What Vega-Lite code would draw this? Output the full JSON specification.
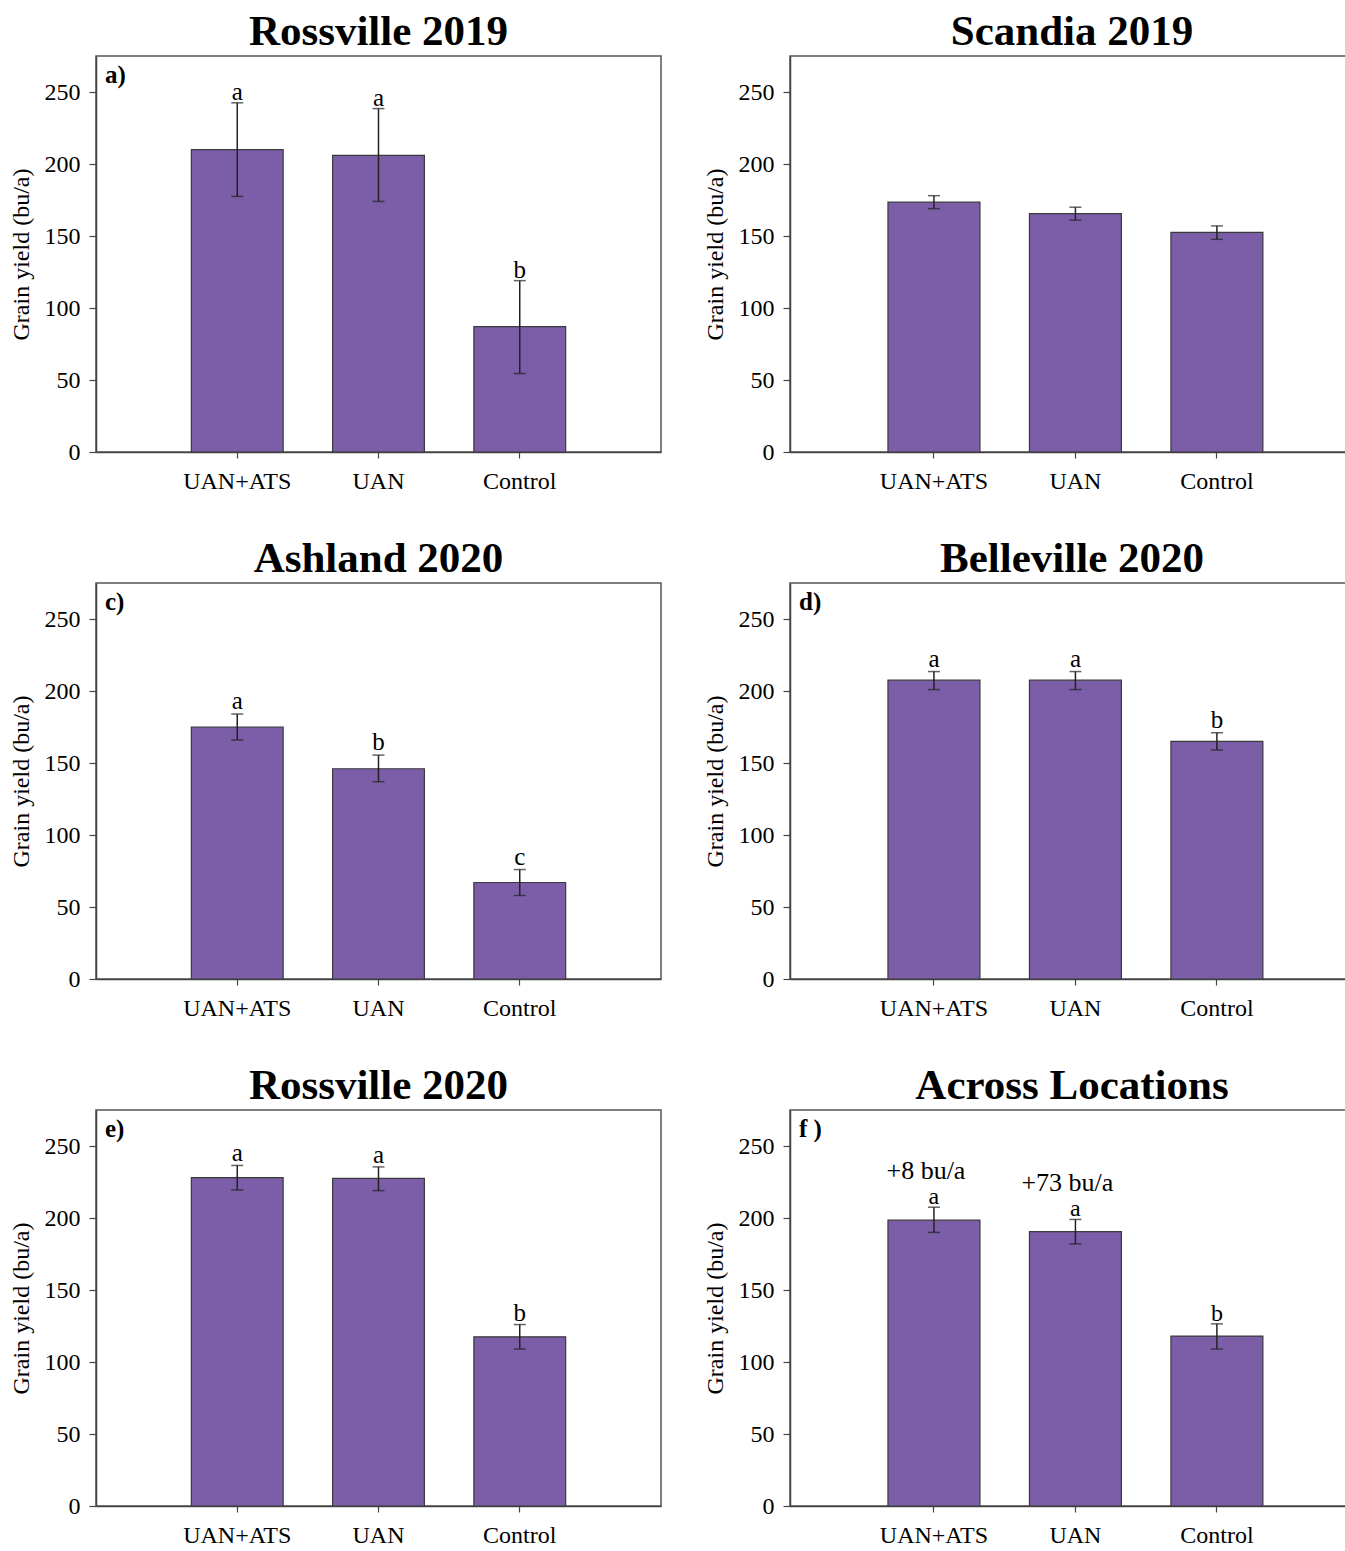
{
  "$schema": "https://vega.github.io/schema/vega-lite/v6.json",
  "padding": {"left": 8, "top": 10, "right": 0, "bottom": 0},
  "background": "white",
  "datasets": {
    "yields": [
      {"panel": "a", "treatment": "UAN+ATS", "yield": 210, "lo": 177.5, "hi": 242.5, "letter": "a", "note": ""},
      {"panel": "a", "treatment": "UAN", "yield": 206, "lo": 174, "hi": 238.5, "letter": "a", "note": ""},
      {"panel": "a", "treatment": "Control", "yield": 87, "lo": 54.5, "hi": 119, "letter": "b", "note": ""},
      {"panel": "b", "treatment": "UAN+ATS", "yield": 173.5, "lo": 169, "hi": 178, "letter": "", "note": ""},
      {"panel": "b", "treatment": "UAN", "yield": 165.5, "lo": 161, "hi": 170, "letter": "", "note": ""},
      {"panel": "b", "treatment": "Control", "yield": 152.5, "lo": 147.7, "hi": 157, "letter": "", "note": ""},
      {"panel": "c", "treatment": "UAN+ATS", "yield": 175, "lo": 166, "hi": 184, "letter": "a", "note": ""},
      {"panel": "c", "treatment": "UAN", "yield": 146, "lo": 137, "hi": 155.5, "letter": "b", "note": ""},
      {"panel": "c", "treatment": "Control", "yield": 67, "lo": 58, "hi": 76, "letter": "c", "note": ""},
      {"panel": "d", "treatment": "UAN+ATS", "yield": 207.5, "lo": 201, "hi": 213.5, "letter": "a", "note": ""},
      {"panel": "d", "treatment": "UAN", "yield": 207.5, "lo": 201, "hi": 213.5, "letter": "a", "note": ""},
      {"panel": "d", "treatment": "Control", "yield": 165, "lo": 159, "hi": 171, "letter": "b", "note": ""},
      {"panel": "e", "treatment": "UAN+ATS", "yield": 228, "lo": 219.5, "hi": 236.5, "letter": "a", "note": ""},
      {"panel": "e", "treatment": "UAN", "yield": 227.5, "lo": 219, "hi": 235.5, "letter": "a", "note": ""},
      {"panel": "e", "treatment": "Control", "yield": 117.5, "lo": 109, "hi": 126, "letter": "b", "note": ""},
      {"panel": "f", "treatment": "UAN+ATS", "yield": 198.5, "lo": 190, "hi": 207.5, "letter": "a", "note": "+8 bu/a"},
      {"panel": "f", "treatment": "UAN", "yield": 190.5, "lo": 182, "hi": 199, "letter": "a", "note": "+73 bu/a"},
      {"panel": "f", "treatment": "Control", "yield": 118, "lo": 109, "hi": 126.5, "letter": "b", "note": ""}
    ]
  },
  "hconcat": [
    {
      "spacing": 43,
      "vconcat": [
        {
          "title": {"text": "Rossville 2019"},
          "width": 565, "height": 396,
          "data": {"name": "yields"},
          "transform": [{"filter": {"field": "panel", "equal": "a"}}],
          "encoding": {
            "x": {"field": "treatment", "type": "nominal", "sort": ["UAN+ATS", "UAN", "Control"], "scale": {"type": "band", "paddingInner": 0.35, "paddingOuter": 0.675}, "axis": {"title": null, "labelAngle": 0}}
          },
          "layer": [
            {"mark": {"type": "bar"}, "encoding": {"y": {"field": "yield", "type": "quantitative", "title": "Grain yield (bu/a)", "scale": {"domain": [0, 275], "nice": false}, "axis": {"values": [0, 50, 100, 150, 200, 250]}}}},
            {"mark": {"type": "rule"}, "encoding": {"y": {"field": "lo", "type": "quantitative", "title": "Grain yield (bu/a)"}, "y2": {"field": "hi"}}},
            {"mark": {"type": "tick", "size": 12}, "encoding": {"y": {"field": "lo", "type": "quantitative", "title": "Grain yield (bu/a)"}}},
            {"mark": {"type": "tick", "size": 12}, "encoding": {"y": {"field": "hi", "type": "quantitative", "title": "Grain yield (bu/a)"}}},
            {"mark": {"type": "text", "baseline": "alphabetic", "dy": -3}, "encoding": {"y": {"field": "hi", "type": "quantitative", "title": "Grain yield (bu/a)"}, "text": {"field": "letter"}}},
            {"data": {"values": [{"label": "a)"}]}, "mark": {"type": "text", "align": "left", "baseline": "top", "fontWeight": "bold", "dx": 9, "dy": 7}, "encoding": {"x": {"value": 0}, "y": {"value": 0}, "text": {"field": "label"}}}
          ]
        },
        {
          "title": {"text": "Ashland 2020"},
          "width": 565, "height": 396,
          "data": {"name": "yields"},
          "transform": [{"filter": {"field": "panel", "equal": "c"}}],
          "encoding": {
            "x": {"field": "treatment", "type": "nominal", "sort": ["UAN+ATS", "UAN", "Control"], "scale": {"type": "band", "paddingInner": 0.35, "paddingOuter": 0.675}, "axis": {"title": null, "labelAngle": 0}}
          },
          "layer": [
            {"mark": {"type": "bar"}, "encoding": {"y": {"field": "yield", "type": "quantitative", "title": "Grain yield (bu/a)", "scale": {"domain": [0, 275], "nice": false}, "axis": {"values": [0, 50, 100, 150, 200, 250]}}}},
            {"mark": {"type": "rule"}, "encoding": {"y": {"field": "lo", "type": "quantitative", "title": "Grain yield (bu/a)"}, "y2": {"field": "hi"}}},
            {"mark": {"type": "tick", "size": 12}, "encoding": {"y": {"field": "lo", "type": "quantitative", "title": "Grain yield (bu/a)"}}},
            {"mark": {"type": "tick", "size": 12}, "encoding": {"y": {"field": "hi", "type": "quantitative", "title": "Grain yield (bu/a)"}}},
            {"mark": {"type": "text", "baseline": "alphabetic", "dy": -5}, "encoding": {"y": {"field": "hi", "type": "quantitative", "title": "Grain yield (bu/a)"}, "text": {"field": "letter"}}},
            {"data": {"values": [{"label": "c)"}]}, "mark": {"type": "text", "align": "left", "baseline": "top", "fontWeight": "bold", "dx": 9, "dy": 7}, "encoding": {"x": {"value": 0}, "y": {"value": 0}, "text": {"field": "label"}}}
          ]
        },
        {
          "title": {"text": "Rossville 2020"},
          "width": 565, "height": 396,
          "data": {"name": "yields"},
          "transform": [{"filter": {"field": "panel", "equal": "e"}}],
          "encoding": {
            "x": {"field": "treatment", "type": "nominal", "sort": ["UAN+ATS", "UAN", "Control"], "scale": {"type": "band", "paddingInner": 0.35, "paddingOuter": 0.675}, "axis": {"title": null, "labelAngle": 0}}
          },
          "layer": [
            {"mark": {"type": "bar"}, "encoding": {"y": {"field": "yield", "type": "quantitative", "title": "Grain yield (bu/a)", "scale": {"domain": [0, 275], "nice": false}, "axis": {"values": [0, 50, 100, 150, 200, 250]}}}},
            {"mark": {"type": "rule"}, "encoding": {"y": {"field": "lo", "type": "quantitative", "title": "Grain yield (bu/a)"}, "y2": {"field": "hi"}}},
            {"mark": {"type": "tick", "size": 12}, "encoding": {"y": {"field": "lo", "type": "quantitative", "title": "Grain yield (bu/a)"}}},
            {"mark": {"type": "tick", "size": 12}, "encoding": {"y": {"field": "hi", "type": "quantitative", "title": "Grain yield (bu/a)"}}},
            {"mark": {"type": "text", "baseline": "alphabetic", "dy": -4}, "encoding": {"y": {"field": "hi", "type": "quantitative", "title": "Grain yield (bu/a)"}, "text": {"field": "letter"}}},
            {"data": {"values": [{"label": "e)"}]}, "mark": {"type": "text", "align": "left", "baseline": "top", "fontWeight": "bold", "dx": 9, "dy": 7}, "encoding": {"x": {"value": 0}, "y": {"value": 0}, "text": {"field": "label"}}}
          ]
        }
      ]
    },
    {
      "spacing": 43,
      "vconcat": [
        {
          "title": {"text": "Scandia 2019", "dx": 4},
          "width": 556, "height": 396,
          "data": {"name": "yields"},
          "transform": [{"filter": {"field": "panel", "equal": "b"}}],
          "encoding": {
            "x": {"field": "treatment", "type": "nominal", "sort": ["UAN+ATS", "UAN", "Control"], "scale": {"type": "band", "paddingInner": 0.35, "paddingOuter": 0.64, "align": 0.541}, "axis": {"title": null, "labelAngle": 0}}
          },
          "layer": [
            {"mark": {"type": "bar"}, "encoding": {"y": {"field": "yield", "type": "quantitative", "title": "Grain yield (bu/a)", "scale": {"domain": [0, 275], "nice": false}, "axis": {"values": [0, 50, 100, 150, 200, 250]}}}},
            {"mark": {"type": "rule"}, "encoding": {"y": {"field": "lo", "type": "quantitative", "title": "Grain yield (bu/a)"}, "y2": {"field": "hi"}}},
            {"mark": {"type": "tick", "size": 12}, "encoding": {"y": {"field": "lo", "type": "quantitative", "title": "Grain yield (bu/a)"}}},
            {"mark": {"type": "tick", "size": 12}, "encoding": {"y": {"field": "hi", "type": "quantitative", "title": "Grain yield (bu/a)"}}}
          ]
        },
        {
          "title": {"text": "Belleville 2020", "dx": 4},
          "width": 556, "height": 396,
          "data": {"name": "yields"},
          "transform": [{"filter": {"field": "panel", "equal": "d"}}],
          "encoding": {
            "x": {"field": "treatment", "type": "nominal", "sort": ["UAN+ATS", "UAN", "Control"], "scale": {"type": "band", "paddingInner": 0.35, "paddingOuter": 0.64, "align": 0.541}, "axis": {"title": null, "labelAngle": 0}}
          },
          "layer": [
            {"mark": {"type": "bar"}, "encoding": {"y": {"field": "yield", "type": "quantitative", "title": "Grain yield (bu/a)", "scale": {"domain": [0, 275], "nice": false}, "axis": {"values": [0, 50, 100, 150, 200, 250]}}}},
            {"mark": {"type": "rule"}, "encoding": {"y": {"field": "lo", "type": "quantitative", "title": "Grain yield (bu/a)"}, "y2": {"field": "hi"}}},
            {"mark": {"type": "tick", "size": 12}, "encoding": {"y": {"field": "lo", "type": "quantitative", "title": "Grain yield (bu/a)"}}},
            {"mark": {"type": "tick", "size": 12}, "encoding": {"y": {"field": "hi", "type": "quantitative", "title": "Grain yield (bu/a)"}}},
            {"mark": {"type": "text", "baseline": "alphabetic", "dy": -5}, "encoding": {"y": {"field": "hi", "type": "quantitative", "title": "Grain yield (bu/a)"}, "text": {"field": "letter"}}},
            {"data": {"values": [{"label": "d)"}]}, "mark": {"type": "text", "align": "left", "baseline": "top", "fontWeight": "bold", "dx": 9, "dy": 7}, "encoding": {"x": {"value": 0}, "y": {"value": 0}, "text": {"field": "label"}}}
          ]
        },
        {
          "title": {"text": "Across Locations", "dx": 4},
          "width": 556, "height": 396,
          "data": {"name": "yields"},
          "transform": [{"filter": {"field": "panel", "equal": "f"}}],
          "encoding": {
            "x": {"field": "treatment", "type": "nominal", "sort": ["UAN+ATS", "UAN", "Control"], "scale": {"type": "band", "paddingInner": 0.35, "paddingOuter": 0.64, "align": 0.541}, "axis": {"title": null, "labelAngle": 0}}
          },
          "layer": [
            {"mark": {"type": "bar"}, "encoding": {"y": {"field": "yield", "type": "quantitative", "title": "Grain yield (bu/a)", "scale": {"domain": [0, 275], "nice": false}, "axis": {"values": [0, 50, 100, 150, 200, 250]}}}},
            {"mark": {"type": "rule"}, "encoding": {"y": {"field": "lo", "type": "quantitative", "title": "Grain yield (bu/a)"}, "y2": {"field": "hi"}}},
            {"mark": {"type": "tick", "size": 12}, "encoding": {"y": {"field": "lo", "type": "quantitative", "title": "Grain yield (bu/a)"}}},
            {"mark": {"type": "tick", "size": 12}, "encoding": {"y": {"field": "hi", "type": "quantitative", "title": "Grain yield (bu/a)"}}},
            {"mark": {"type": "text", "baseline": "alphabetic", "dy": -3, "fontSize": 24}, "encoding": {"y": {"field": "hi", "type": "quantitative", "title": "Grain yield (bu/a)"}, "text": {"field": "letter"}}},
            {"mark": {"type": "text", "baseline": "alphabetic", "dy": -28, "dx": -8, "fontSize": 26}, "encoding": {"y": {"field": "hi", "type": "quantitative", "title": "Grain yield (bu/a)"}, "text": {"field": "note"}}},
            {"data": {"values": [{"label": "f )"}]}, "mark": {"type": "text", "align": "left", "baseline": "top", "fontWeight": "bold", "dx": 9, "dy": 7}, "encoding": {"x": {"value": 0}, "y": {"value": 0}, "text": {"field": "label"}}}
          ]
        }
      ]
    }
  ],
  "spacing": 40,
  "config": {
    "font": "Liberation Serif",
    "view": {"stroke": "#555555", "strokeWidth": 1.5},
    "axis": {
      "labelFont": "Liberation Serif", "labelFontSize": 24, "labelColor": "#000000",
      "titleFont": "Liberation Serif", "titleFontSize": 24, "titleFontWeight": "normal", "titleColor": "#000000",
      "domainColor": "#444444", "domainWidth": 1.5, "tickColor": "#444444", "tickWidth": 1.2, "tickSize": 7,
      "grid": false, "labelPadding": 4
    },
    "axisX": {"labelPadding": 11, "tickSize": 6},
    "axisY": {"titlePadding": 11, "labelPadding": 9},
    "title": {"font": "Liberation Serif", "fontSize": 43, "fontWeight": "bold", "color": "#000000", "offset": 2, "anchor": "middle", "frame": "group"},
    "bar": {"fill": "#7B5EA7", "stroke": "#3a3a3a", "strokeWidth": 1.2},
    "rule": {"color": "#222222", "strokeWidth": 1.5},
    "tick": {"color": "#222222", "thickness": 1.5},
    "text": {"font": "Liberation Serif", "fontSize": 25, "color": "#000000"}
  }
}
